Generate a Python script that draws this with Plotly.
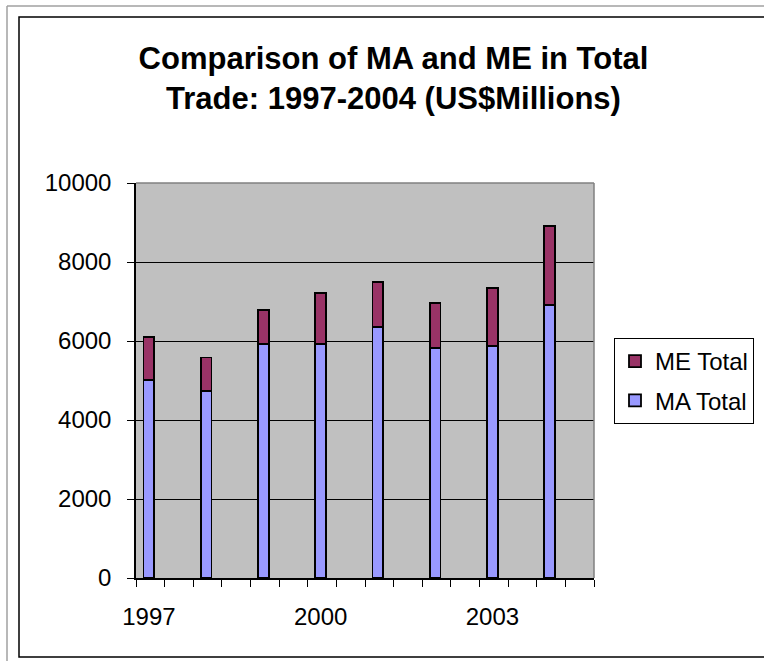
import plotly.graph_objects as go

# values (US$ millions)
years = [1997, 1998, 1999, 2000, 2001, 2002, 2003, 2004]
ma_total = [5010, 4730, 5920, 5920, 6350, 5820, 5870, 6920]
me_total = [1100, 850, 860, 1290, 1140, 1150, 1480, 2000]
year_labels = [1997, 2000, 2003]
y_ticks = [0, 2000, 4000, 6000, 8000, 10000]

W, H = 764, 661
L, R, T, B = 136, 594, 183, 578  # plot area in pixels


def px_x(x):
    return (x - L) / (R - L)


def px_y(y):
    return (B - y) / (B - T)


fig = go.Figure()
fig.add_trace(go.Bar(
    x=years, y=ma_total, name="MA Total", width=0.19,
    legendgroup="ma", legendrank=2,
    marker=dict(color="#9999FF", line=dict(color="black", width=1.8)),
))
fig.add_trace(go.Bar(
    x=years, y=me_total, name="ME Total", width=0.19,
    legendgroup="me", legendrank=1,
    marker=dict(color="#993366", line=dict(color="black", width=1.8)),
))

font = "Arial, Liberation Sans, sans-serif"

fig.update_layout(
    width=W, height=H,
    margin=dict(l=L, r=W - R, t=T, b=H - B, pad=0, autoexpand=False),
    barmode="stack",
    paper_bgcolor="white",
    plot_bgcolor="#C0C0C0",
    font=dict(family=font, size=24, color="black"),
    title=dict(
        text="<b>Comparison of MA and ME in Total<br>Trade: 1997-2004 (US$Millions)</b>",
        font=dict(family=font, size=31, color="black"),
        x=393.5 / W, xref="container", xanchor="center",
        y=1 - 69 / H, yref="container", yanchor="top",
    ),
    legend=dict(
        x=px_x(614), y=px_y(338), xanchor="left", yanchor="top",
        traceorder="grouped", tracegroupgap=5,
        bgcolor="white", bordercolor="black", borderwidth=1,
        font=dict(family=font, size=24, color="black"),
    ),
    showlegend=True,
)

fig.update_xaxes(
    range=[1996.775, 2004.775],
    tickmode="array", tickvals=year_labels, ticktext=[str(v) for v in year_labels],
    ticks="", ticklabelstandoff=16,
    showgrid=False, zeroline=False,
    showline=True, linecolor="black", linewidth=1.5,
    minor=dict(tickmode="linear", tick0=1996.775, dtick=0.5,
               ticks="outside", ticklen=7, tickcolor="black", showgrid=False),
)
fig.update_yaxes(
    range=[0, 10000], tickmode="array", tickvals=y_ticks,
    ticktext=[str(v) for v in y_ticks],
    ticks="outside", ticklen=7, tickcolor="black", ticklabelstandoff=11,
    showgrid=True, gridcolor="black", gridwidth=1,
    zeroline=False, showline=True, linecolor="black", linewidth=1.5,
)

# gray top/right border of the plot area
fig.add_shape(type="line", xref="paper", yref="paper", x0=0, x1=1, y0=1, y1=1,
              line=dict(color="#808080", width=1.5), layer="above")
fig.add_shape(type="line", xref="paper", yref="paper", x0=1, x1=1, y0=0, y1=1,
              line=dict(color="#808080", width=1.5), layer="above")

# outer frames
fig.add_shape(type="line", xref="paper", yref="paper",
              x0=px_x(7), x1=px_x(W + 5), y0=px_y(6), y1=px_y(6),
              line=dict(color="#A0A0A0", width=1.5))
fig.add_shape(type="line", xref="paper", yref="paper",
              x0=px_x(7), x1=px_x(7), y0=px_y(6), y1=px_y(H + 5),
              line=dict(color="#A0A0A0", width=1.5))
fig.add_shape(type="rect", xref="paper", yref="paper",
              x0=px_x(19), x1=px_x(W + 10), y0=px_y(17), y1=px_y(657),
              line=dict(color="black", width=1.5))

fig.write_html("out.html", config={"displayModeBar": False},
               post_script="document.body.style.margin='0';")
